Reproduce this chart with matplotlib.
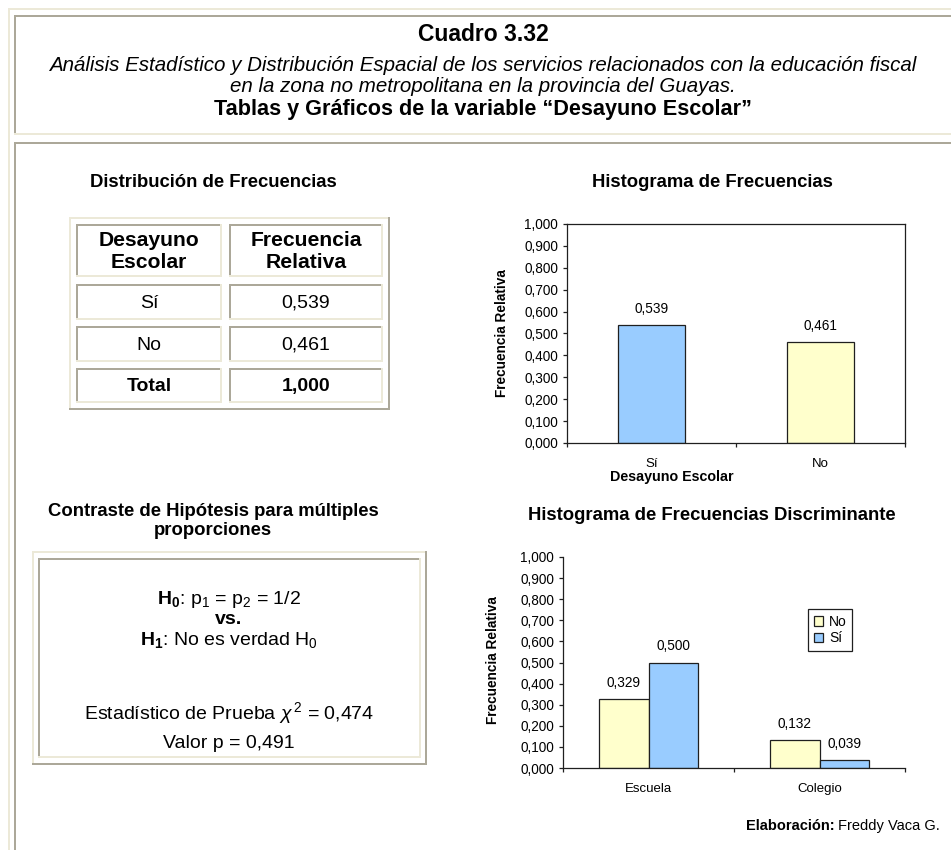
import numpy as np
import matplotlib
matplotlib.use('Agg')
import matplotlib.pyplot as plt
from matplotlib.patches import Rectangle
from matplotlib.ticker import FixedLocator, FuncFormatter

plt.rcParams['font.family'] = ['Liberation Sans', 'DejaVu Sans']
plt.rcParams['mathtext.fontset'] = 'custom'
plt.rcParams['mathtext.rm'] = 'Liberation Sans'
plt.rcParams['mathtext.it'] = 'Liberation Sans:italic'
plt.rcParams['mathtext.bf'] = 'Liberation Sans:bold'

# datos
categorias = ['Sí', 'No']
frecuencias = [0.539, 0.461]
total = 1.000
tipos = ['Escuela', 'Colegio']
frec_no = [0.329, 0.132]
frec_si = [0.500, 0.039]
chi2 = 0.474
valor_p = 0.491

AZUL = '#99CCFF'
AMARILLO = '#FFFFCC'
BEIGE = '#ECE9D8'
GRIS = '#ACA899'
BORDE = '#1f1f1f'


def coma(v, pos=None):
    return f'{v:.3f}'.replace('.', ',')


W, H = 951, 850
fig = plt.figure(figsize=(W / 100, H / 100), dpi=100)
bg = fig.add_axes([0, 0, 1, 1])
bg.set_xlim(0, W)
bg.set_ylim(H, 0)
bg.axis('off')


def rect(x, y, w, h, c):
    bg.add_patch(Rectangle((x, y), w, h, facecolor=c, edgecolor='none'))


def marco(x0, y0, x1, y1, tl, br, t=2):
    rect(x0, y0, x1 - x0, t, tl)
    rect(x0, y0, t, y1 - y0, tl)
    rect(x0, y1 - t, x1 - x0, t, br)
    rect(x1 - t, y0, t, y1 - y0, br)


def txt(x, y, s, size=14, **kw):
    kw.setdefault('ha', 'center')
    kw.setdefault('va', 'center')
    return bg.text(x, y, s, fontsize=size, **kw)


# marcos de la pagina
marco(8, 8, 980, 880, BEIGE, GRIS)
marco(14, 15, 975, 135, GRIS, BEIGE)
marco(14, 142, 975, 875, GRIS, BEIGE)

# encabezado
txt(483, 34, 'Cuadro 3.32', 16.5, fontweight='bold')
txt(483, 65, 'Análisis Estadístico y Distribución Espacial de los servicios '
    'relacionados con la educación fiscal', 14.8, fontstyle='italic')
txt(483, 86, 'en la zona no metropolitana en la provincia del Guayas.', 14.8,
    fontstyle='italic')
txt(483, 109, 'Tablas y Gráficos de la variable “Desayuno Escolar”', 15.6,
    fontweight='bold')

# tabla de frecuencias
txt(213, 182, 'Distribución de Frecuencias', 13.3, fontweight='bold')
marco(69, 217, 390, 410, BEIGE, GRIS)
filas = [(224, 277), (284, 320), (326, 362), (368, 403)]
columnas = [(76, 222), (229, 383)]
celdas = [
    ('Desayuno\nEscolar', 'Frecuencia\nRelativa', 'bold', 15.2),
    (categorias[0], coma(frecuencias[0]), 'normal', 14),
    (categorias[1], coma(frecuencias[1]), 'normal', 14),
    ('Total', coma(total), 'bold', 14),
]
for (y0, y1), (a, b, peso, tam) in zip(filas, celdas):
    for (x0, x1), s in zip(columnas, (a, b)):
        marco(x0, y0, x1, y1, GRIS, BEIGE)
        txt((x0 + x1) / 2, (y0 + y1) / 2 + 1, s, tam, fontweight=peso,
            linespacing=1.15)

# contraste de hipotesis
txt(213, 521, 'Contraste de Hipótesis para múltiples\nproporciones', 13.3,
    fontweight='bold', linespacing=1.12)
marco(32, 551, 427, 765, BEIGE, GRIS)
marco(38, 558, 421, 758, GRIS, BEIGE)
cx = 229
txt(cx, 599, r'$\mathbf{H_0}$: p$_1$ = p$_2$ = 1/2', 14)
txt(cx, 619, 'vs.', 14, fontweight='bold')
txt(cx, 640, r'$\mathbf{H_1}$: No es verdad H$_0$', 14)
txt(cx, 713, 'Estadístico de Prueba $\\chi^{\\,2}$ = ' + coma(chi2), 14)
txt(cx, 744, 'Valor p = ' + coma(valor_p), 14)

# pie
pie = txt(940, 826, 'Freddy Vaca G.', 10.5, ha='right')
bg.annotate('Elaboración:', xy=(0, 0), xycoords=pie, xytext=(-4, 0),
            textcoords='offset pixels', ha='right', va='bottom',
            fontsize=10.5, fontweight='bold')


def eje(x0, y0, x1, y1):
    return fig.add_axes([x0 / W, 1 - y1 / H, (x1 - x0) / W, (y1 - y0) / H])


def formato(ax, etiquetas):
    ax.set_xlim(-0.5, len(etiquetas) - 0.5)
    ax.set_ylim(0, 1)
    ax.set_yticks(np.linspace(0, 1, 11))
    ax.yaxis.set_major_formatter(FuncFormatter(coma))
    ax.xaxis.set_major_locator(FixedLocator(np.arange(len(etiquetas) + 1) - 0.5))
    ax.xaxis.set_major_formatter(FuncFormatter(lambda v, p: ''))
    ax.set_xticks(np.arange(len(etiquetas)), minor=True)
    ax.set_xticklabels(etiquetas, minor=True)
    ax.tick_params(axis='x', which='minor', length=0, pad=11, labelsize=9.5)
    ax.tick_params(axis='both', which='major', length=3, width=0.9,
                   color=BORDE, labelsize=9.8, pad=3.5)
    for sp in ax.spines.values():
        sp.set_linewidth(0.9)
        sp.set_color(BORDE)


def rotular(ax, barras, valores):
    for b, v in zip(barras, valores):
        ax.annotate(coma(v), (b.get_x() + b.get_width() / 2, v),
                    xytext=(0, 9), textcoords='offset pixels',
                    ha='center', va='bottom', fontsize=9.8)


# histograma de frecuencias
ax1 = eje(567, 224, 905, 443)
x = np.arange(len(categorias))
b1 = ax1.bar(x, frecuencias, width=0.4, color=[AZUL, AMARILLO],
             edgecolor=BORDE, linewidth=0.9)
formato(ax1, categorias)
rotular(ax1, b1, frecuencias)
txt(712, 182, 'Histograma de Frecuencias', 13.3, fontweight='bold')
txt(502, 333, 'Frecuencia Relativa', 9.8, fontweight='bold', rotation=90)
txt(672, 477, 'Desayuno Escolar', 10.3, fontweight='bold')

# histograma discriminante
ax2 = eje(563, 557, 905, 768)
x = np.arange(len(tipos))
w = 0.29
b_no = ax2.bar(x - w / 2, frec_no, w, color=AMARILLO, edgecolor=BORDE,
               linewidth=0.9, label='No')
b_si = ax2.bar(x + w / 2, frec_si, w, color=AZUL, edgecolor=BORDE,
               linewidth=0.9, label='Sí')
formato(ax2, tipos)
ax2.spines['top'].set_visible(False)
ax2.spines['right'].set_visible(False)
rotular(ax2, b_no, frec_no)
rotular(ax2, b_si, frec_si)
leg = ax2.legend(loc='upper left', bbox_to_anchor=(808 / W, 1 - 609 / H),
                 bbox_transform=fig.transFigure, fancybox=False, framealpha=1,
                 edgecolor=BORDE, fontsize=10, handlelength=0.7,
                 handleheight=0.7, handletextpad=0.4, borderpad=0.4,
                 labelspacing=0.2, borderaxespad=0)
leg.get_frame().set_linewidth(0.9)
txt(712, 516, 'Histograma de Frecuencias Discriminante', 13.3,
    fontweight='bold')
txt(493, 660, 'Frecuencia Relativa', 9.8, fontweight='bold', rotation=90)

fig.savefig('out.png', dpi=100)
